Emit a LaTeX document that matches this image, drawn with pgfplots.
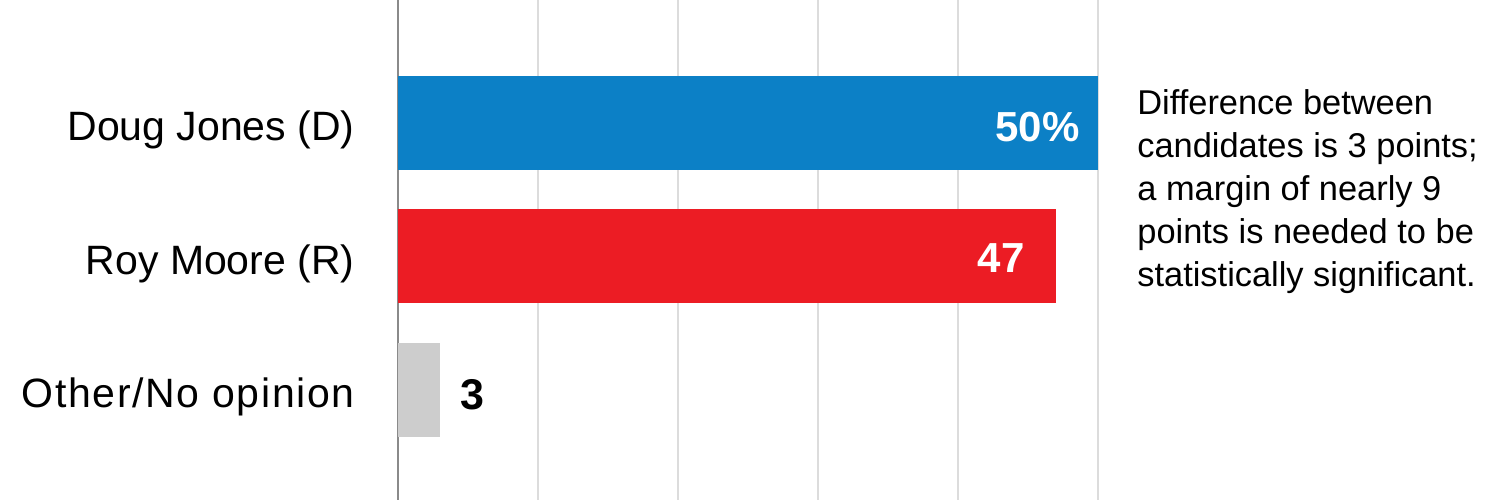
\documentclass[border=0pt]{standalone}
\usepackage{pgfplots}
\pgfplotsset{compat=1.18}
\usepackage{fontspec}
\setmainfont{Liberation Sans}
\definecolor{dblue}{HTML}{0C80C6}
\definecolor{dred}{HTML}{EC1C24}
\definecolor{lgray}{HTML}{CDCDCD}
\definecolor{gridgray}{HTML}{DCDCDC}
\definecolor{axisgray}{HTML}{8A8A8A}
\begin{document}
\begin{tikzpicture}
\useasboundingbox (-199pt,0) rectangle (551pt,250pt);
\begin{axis}[at={(0,0)}, anchor=south west, scale only axis,
 width=350pt, height=250pt,
 xmin=0, xmax=50, ymin=-0.921, ymax=2.824, y dir=reverse,
 axis line style={draw=none}, major tick length=0pt,
 xtick={10,20,30,40,50}, xticklabels={},
 xmajorgrids, grid style={color=gridgray, line width=0.8pt},
 extra x ticks={0}, extra x tick labels={},
 extra x tick style={grid style={color=axisgray, line width=0.8pt}},
 ytick={0,1,2}, yticklabels={Doug Jones (D), Roy Moore (R), {\addfontfeature{LetterSpace=4}Other/No opinion}},
 yticklabel style={font=\fontsize{20.5}{24}\selectfont, anchor=east, inner sep=0pt, xshift=-21.5pt, yshift=-3.5pt},
 /pgf/number format/assume math mode=true,
 xbar, bar width=47pt, bar shift=0pt, clip=false,
 ]
\addplot[fill=dblue, draw=none] coordinates {(50,0)};
\addplot[fill=dred, draw=none] coordinates {(47,1)};
\addplot[fill=lgray, draw=none] coordinates {(3,2)};
\node[anchor=east, text=white, inner sep=0pt, xshift=-9pt, yshift=-2pt, font=\bfseries\fontsize{21}{24}\selectfont] at (axis cs:50,0) {50\%};
\node[anchor=east, text=white, inner sep=0pt, xshift=-15.5pt, yshift=-1pt, font=\bfseries\fontsize{21}{24}\selectfont] at (axis cs:47,1) {47};
\node[anchor=west, text=black, inner sep=0pt, xshift=10pt, yshift=-2.5pt, font=\bfseries\fontsize{21.5}{24}\selectfont] at (axis cs:3,2) {3};
\node[anchor=base west, align=left, inner sep=0pt, xshift=19.5pt, font=\fontsize{17.2}{21.5}\selectfont] at (axis cs:50,1.228) {Difference between\\candidates is 3 points;\\a margin of nearly 9\\points is needed to be\\statistically significant.};
\end{axis}
\end{tikzpicture}
\end{document}
